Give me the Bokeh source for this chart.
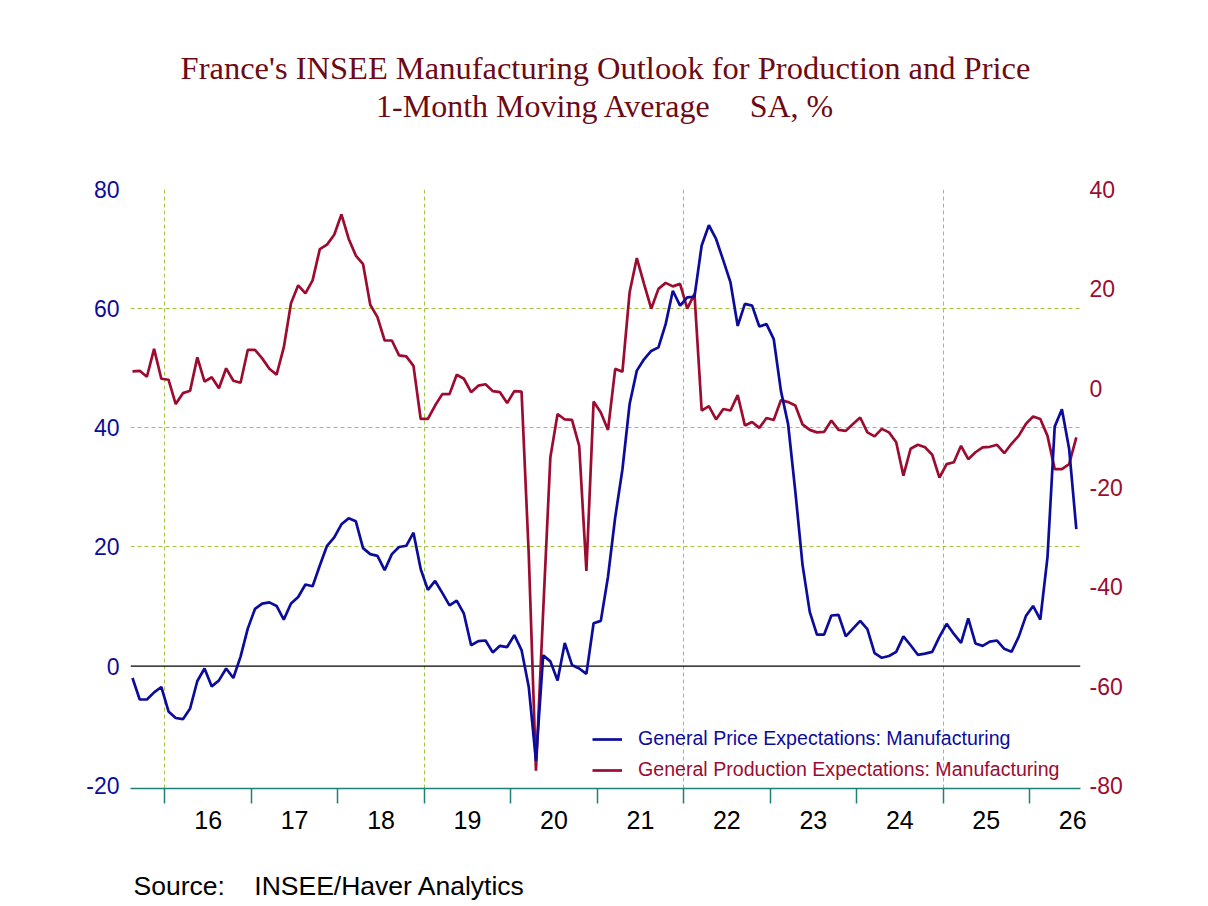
import pandas as pd
from bokeh.plotting import figure
from bokeh.models import (Range1d, LinearAxis, FixedTicker, Span, Legend,
                          LegendItem, Grid, Title)
from bokeh.embed import file_html
from bokeh.resources import INLINE

# Monthly survey balances, Aug 2015 onward
months = pd.date_range("2015-08-01", periods=132, freq="MS")
x_years = list(months.year + (months.month - 0.5) / 12.0)

price_expectations = [
    -2.0, -5.6, -5.6, -4.4, -3.5, -7.6, -8.7, -8.9, -7.1, -2.5,
    -0.4, -3.4, -2.4, -0.4, -2.0, 1.6, 6.3, 9.6, 10.5, 10.7,
    10.1, 7.8, 10.5, 11.6, 13.7, 13.4, 16.9, 20.2, 21.6, 23.8,
    24.8, 24.3, 19.8, 18.8, 18.5, 16.1, 18.8, 20.0, 20.2, 22.4,
    16.3, 12.8, 14.3, 12.3, 10.2, 11.0, 8.8, 3.5, 4.2, 4.3,
    2.3, 3.4, 3.2, 5.2, 2.7, -3.5, -15.9, 1.8, 0.8, -2.4,
    3.9, 0.2, -0.4, -1.3, 7.2, 7.6, 15.0, 25.0, 33.0, 44.0,
    49.6, 51.5, 52.9, 53.5, 57.4, 63.0, 60.5, 61.9, 62.0, 70.6,
    74.0, 71.7, 68.1, 64.4, 57.1, 60.8, 60.5, 57.0, 57.4, 54.9,
    46.2, 40.6, 29.3, 17.0, 9.1, 5.3, 5.3, 8.5, 8.6, 5.0,
    6.3, 7.6, 6.2, 2.2, 1.4, 1.7, 2.4, 5.0, 3.5, 1.9,
    2.1, 2.4, 4.9, 7.1, 5.4, 3.9, 8.0, 3.8, 3.4, 4.1,
    4.3, 2.9, 2.4, 4.9, 8.4, 10.1, 7.8, 18.3, 40.2, 43.1,
    36.5, 23.0,
]

production_expectations = [
    3.4, 3.5, 2.3, 7.9, 1.9, 1.7, -3.2, -1.0, -0.5, 6.2,
    1.3, 2.2, 0.0, 4.0, 1.5, 1.1, 7.7, 7.7, 6.0, 3.9,
    2.7, 8.2, 17.1, 20.7, 19.1, 21.7, 28.0, 28.9, 30.9, 35.0,
    30.1, 26.7, 25.0, 16.8, 14.3, 9.6, 9.6, 6.6, 6.4, 4.5,
    -6.2, -6.2, -3.5, -1.2, -1.2, 2.7, 1.9, -0.8, 0.5, 0.8,
    -0.6, -0.8, -3.0, -0.6, -0.7, -33.5, -77.0, -45.0, -13.9, -5.2,
    -6.3, -6.4, -11.6, -36.8, -2.7, -4.9, -8.4, 3.9, 3.3, 19.3,
    26.2, 21.0, 16.0, 20.0, 21.2, 20.5, 21.0, 16.0, 19.0, -4.5,
    -3.6, -6.3, -4.2, -4.5, -1.4, -7.5, -6.8, -8.0, -6.0, -6.4,
    -2.4, -2.8, -3.5, -7.3, -8.4, -8.9, -8.8, -6.5, -8.4, -8.6,
    -7.2, -5.9, -8.9, -9.7, -8.2, -8.9, -10.9, -17.6, -12.2, -11.4,
    -11.9, -13.4, -18.0, -15.3, -14.9, -11.6, -14.3, -12.9, -11.9, -11.8,
    -11.4, -13.1, -11.2, -9.6, -7.2, -5.7, -6.2, -9.6, -16.3, -16.3,
    -15.3, -9.9,
]

year_starts = [2016, 2017, 2018, 2019, 2020, 2021, 2022, 2023, 2024, 2025, 2026]
year_labels = ["16", "17", "18", "19", "20", "21", "22", "23", "24", "25", "26"]
grid_years = [2016, 2019, 2022, 2025]
left_ticks = [-20, 0, 20, 40, 60, 80]
right_ticks = [-80, -60, -40, -20, 0, 20, 40]

BLUE = "#0C0C9C"
RED = "#9C0C30"
TITLE_RED = "#6E0A14"
GRID = "#A2C640"
TEAL = "#1E8078"
SANS = "Liberation Sans"
SERIF = "Liberation Serif"
NBSP = "\u00a0"

p = figure(width=1208, height=906,
           x_range=Range1d(2015.602, 2026.59), y_range=Range1d(-20.54, 80.0),
           x_axis_type=None, y_axis_type=None,
           output_backend="svg", toolbar_location=None,
           min_border_left=130, min_border_right=128,
           min_border_top=189, min_border_bottom=118,
           outline_line_color=None, background_fill_color="white",
           border_fill_color="white")
p.extra_y_ranges = {"prod": Range1d(-80.6, 40.0)}

# gridlines
p.add_layout(Grid(dimension=1, ticker=FixedTicker(ticks=[20, 40, 60, 80]),
                  grid_line_color=GRID, grid_line_dash="4 3", grid_line_width=1))
p.add_layout(Grid(dimension=0, ticker=FixedTicker(ticks=grid_years),
                  grid_line_color=GRID, grid_line_dash="4 3", grid_line_width=1))

p.add_layout(Span(location=0, dimension="width", line_color="black",
                  line_width=1.2, level="underlay"))

# axes
left = LinearAxis(ticker=FixedTicker(ticks=left_ticks), axis_line_color=None,
                  major_tick_line_color=None, minor_tick_line_color=None,
                  major_label_overrides={t: str(t) for t in left_ticks},
                  major_label_text_color=BLUE, major_label_text_font=SANS,
                  major_label_text_font_size="23px", major_label_standoff=5)
p.add_layout(left, "left")

right = LinearAxis(y_range_name="prod", ticker=FixedTicker(ticks=right_ticks),
                   axis_line_color=None, major_tick_line_color=None,
                   minor_tick_line_color=None,
                   major_label_overrides={t: str(t) for t in right_ticks},
                   major_label_text_color=RED,
                   major_label_text_font=SANS, major_label_text_font_size="23px",
                   major_label_standoff=3)
p.add_layout(right, "right")

# year axis; its axis label carries the source note (centred, padded on the
# right so that the visible words begin at the left edge of the frame)
source_note = "Source:" + NBSP * 4 + "INSEE/Haver Analytics" + NBSP * 75
mid_years = [y + 0.5 for y in year_starts]
bottom = LinearAxis(ticker=FixedTicker(ticks=mid_years, minor_ticks=year_starts),
                    axis_line_color=TEAL, axis_line_width=1.5,
                    major_tick_line_color=None,
                    minor_tick_line_color=TEAL, minor_tick_line_width=1.5,
                    minor_tick_in=0, minor_tick_out=15,
                    major_label_overrides={m: t for m, t in zip(mid_years, year_labels)},
                    major_label_text_color="black", major_label_text_font=SANS,
                    major_label_text_font_size="25px", major_label_standoff=7,
                    axis_label=source_note, axis_label_align="center",
                    axis_label_standoff=39,
                    axis_label_text_font=SANS, axis_label_text_font_size="26.5px",
                    axis_label_text_font_style="normal",
                    axis_label_text_color="black")
p.add_layout(bottom, "below")

prod_r = p.line(x_years, production_expectations, y_range_name="prod",
                line_color=RED, line_width=2.7)
price_r = p.line(x_years, price_expectations, line_color=BLUE, line_width=2.7)

for item, color, yloc in ((LegendItem(label="General Price Expectations: Manufacturing",
                                      renderers=[price_r]), BLUE, 38),
                          (LegendItem(label="General Production Expectations: Manufacturing",
                                      renderers=[prod_r]), RED, 7)):
    lg = Legend(items=[item], location=(462, yloc), orientation="vertical",
                glyph_width=30, glyph_height=20, label_standoff=16,
                label_text_font=SANS, label_text_font_size="19.6px",
                label_text_color=color, padding=0, margin=0, spacing=0,
                border_line_color=None, background_fill_alpha=0)
    p.add_layout(lg, "center")

# header: a thin spacer next to the frame, then the two centred title lines
p.add_layout(Title(text=NBSP, text_font_size="1px", standoff=63), "above")
p.add_layout(Title(text="1-Month Moving Average" + NBSP * 5 + "SA, %", align="center",
                   text_font=SERIF, text_font_size="32px",
                   text_font_style="normal", text_color=TITLE_RED,
                   standoff=0), "above")
p.add_layout(Title(text="France's INSEE Manufacturing Outlook for Production and Price",
                   align="center", text_font=SERIF, text_font_size="32.5px",
                   text_font_style="normal", text_color=TITLE_RED,
                   standoff=0), "above")

open("out.html", "w").write(file_html(p, INLINE))
